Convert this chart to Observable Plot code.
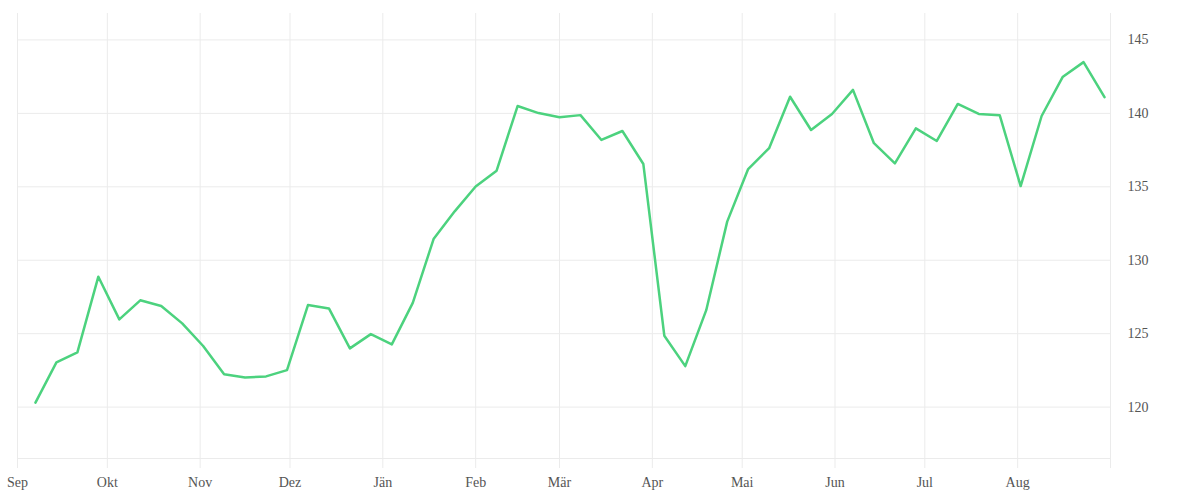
<!DOCTYPE html>
<html>
<head>
<meta charset="utf-8">
<script src="https://cdn.jsdelivr.net/npm/d3@7"></script>
<script src="https://cdn.jsdelivr.net/npm/@observablehq/plot@0.6"></script>
<style>
  html, body { margin: 0; padding: 0; background: #fff; }
  #chart svg { display: block; }
</style>
</head>
<body>
<div id="chart"></div>
<script>
// Weekly observation dates
const dates = [
  "2022-09-07","2022-09-14","2022-09-21","2022-09-28",
  "2022-10-05","2022-10-12","2022-10-19","2022-10-26",
  "2022-11-02","2022-11-09","2022-11-16","2022-11-23","2022-11-30",
  "2022-12-07","2022-12-14","2022-12-21","2022-12-28",
  "2023-01-04","2023-01-11","2023-01-18","2023-01-25",
  "2023-02-01","2023-02-08","2023-02-15","2023-02-22",
  "2023-03-01","2023-03-08","2023-03-15","2023-03-22","2023-03-29",
  "2023-04-05","2023-04-12","2023-04-19","2023-04-26",
  "2023-05-03","2023-05-10","2023-05-17","2023-05-24","2023-05-31",
  "2023-06-07","2023-06-14","2023-06-21","2023-06-28",
  "2023-07-05","2023-07-12","2023-07-19","2023-07-26",
  "2023-08-02","2023-08-09","2023-08-16","2023-08-23","2023-08-30"
];
// Series values
const values = [
  120.3, 123.05, 123.73, 128.88,
  125.97, 127.27, 126.88, 125.7,
  124.16, 122.23, 122.02, 122.09, 122.52,
  126.95, 126.72, 124.0, 124.97,
  124.27, 127.1, 131.47, 133.33,
  135.02, 136.1, 140.5, 140.02,
  139.74, 139.88, 138.19, 138.8, 136.55,
  124.86, 122.79, 126.6, 132.63,
  136.21, 137.63, 141.13, 138.87, 139.96,
  141.6, 137.97, 136.6, 138.98,
  138.12, 140.64, 139.96, 139.88,
  135.05, 139.82, 142.47, 143.49, 141.1
];
// Axis ticks
const monthTicks = [
  "2022-09-01","2022-10-01","2022-11-01","2022-12-01","2023-01-01","2023-02-01",
  "2023-03-01","2023-04-01","2023-05-01","2023-06-01","2023-07-01","2023-08-01","2023-09-01"
];
const monthLabels = ["Sep","Okt","Nov","Dez","Jän","Feb","Mär","Apr","Mai","Jun","Jul","Aug",""];
const yTicks = [120, 125, 130, 135, 140, 145];
const yDomain = [116.5, 146.8];

const parse = d3.utcParse("%Y-%m-%d");
const data = dates.map((d, i) => ({date: parse(d), value: values[i]}));
const tickDates = monthTicks.map(parse);
const labelOf = new Map(tickDates.map((d, i) => [+d, monthLabels[i]]));

const grid = "#ebebeb";
const chart = Plot.plot({
  width: 1200,
  height: 500,
  marginTop: 13,
  marginBottom: 42,
  marginLeft: 17,
  marginRight: 90,
  style: {fontFamily: "'Liberation Serif', serif", fontSize: "14px", color: "#555", background: "#fff"},
  x: {type: "utc", domain: [tickDates[0], tickDates[tickDates.length - 1]]},
  y: {domain: yDomain},
  marks: [
    Plot.gridX(tickDates, {stroke: grid, strokeOpacity: 1}),
    Plot.gridY(yTicks, {stroke: grid, strokeOpacity: 1}),
    Plot.ruleY([yDomain[0]], {stroke: grid}),
    Plot.axisX(tickDates, {
      anchor: "bottom", tickSize: 10, tickPadding: 9, stroke: grid, fill: "#555",
      tickFormat: d => labelOf.get(+d), label: null
    }),
    Plot.axisY(yTicks, {
      anchor: "right", tickSize: 0, tickPadding: 17, fill: "#555", label: null
    }),
    Plot.line(data, {x: "date", y: "value", stroke: "#4cd27e", strokeWidth: 2.5})
  ]
});
document.getElementById("chart").appendChild(chart);
</script>
</body>
</html>
